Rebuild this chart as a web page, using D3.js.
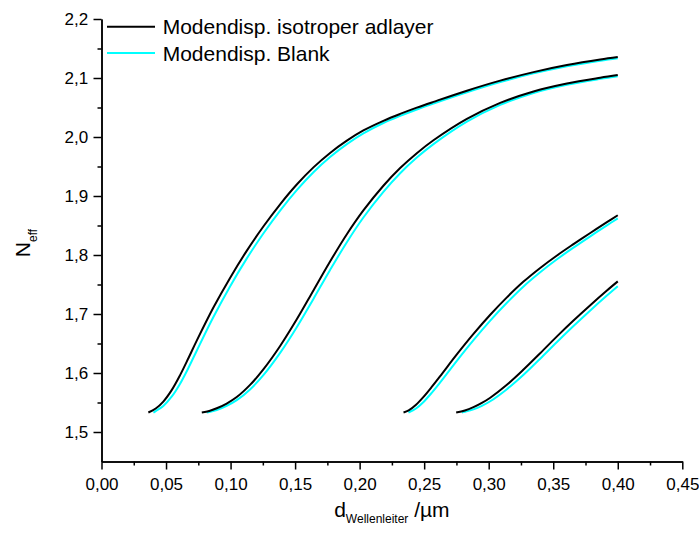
<!DOCTYPE html>
<html>
<head>
<meta charset="utf-8">
<script src="https://cdn.jsdelivr.net/npm/d3@7"></script>
<style>
  html, body { margin: 0; padding: 0; background: #fff; }
  svg { display: block; font-family: "Liberation Sans", Arial, sans-serif; }
</style>
</head>
<body>
<svg id="chart" width="699" height="533"></svg>
<script>
// Mode dispersion N_eff(d) of a slab waveguide, four guided modes,
// with an isotropic adlayer (black) and without (blank, cyan).
const seriesNames = ["Modendisp. isotroper adlayer", "Modendisp. Blank"];
const seriesColors = ["#000000", "#00ffff"];

// [d in µm, N_eff]
const adlayerMode0 = [
  [0.0363, 1.5330], [0.0420, 1.5398], [0.0479, 1.5516], [0.0545, 1.5714], [0.0609, 1.5964],
  [0.0675, 1.6258], [0.0738, 1.6548], [0.0867, 1.7109], [0.0996, 1.7612], [0.1125, 1.8070],
  [0.1254, 1.8483], [0.1384, 1.8860], [0.1513, 1.9195], [0.1642, 1.9485], [0.1771, 1.9730],
  [0.1901, 1.9938], [0.2029, 2.0111], [0.2184, 2.0274], [0.2314, 2.0391], [0.2443, 2.0497],
  [0.2572, 2.0595], [0.2831, 2.0785], [0.3089, 2.0955], [0.3347, 2.1100], [0.3606, 2.1219],
  [0.3864, 2.1314], [0.4000, 2.1355]
];
const blankMode0 = [
  [0.0402, 1.5330], [0.0420, 1.5354], [0.0479, 1.5442], [0.0545, 1.5603], [0.0609, 1.5819],
  [0.0675, 1.6093], [0.0738, 1.6378], [0.0867, 1.6948], [0.0996, 1.7468], [0.1125, 1.7939],
  [0.1254, 1.8364], [0.1384, 1.8753], [0.1513, 1.9099], [0.1642, 1.9402], [0.1771, 1.9660],
  [0.1901, 1.9879], [0.2029, 2.0061], [0.2184, 2.0237], [0.2314, 2.0358], [0.2443, 2.0467],
  [0.2572, 2.0567], [0.2831, 2.0758], [0.3089, 2.0931], [0.3347, 2.1078], [0.3606, 2.1199],
  [0.3864, 2.1294], [0.4000, 2.1335]
];
const adlayerMode1 = [
  [0.0777, 1.5330], [0.0835, 1.5356], [0.0893, 1.5402], [0.0970, 1.5483], [0.1048, 1.5592],
  [0.1151, 1.5798], [0.1254, 1.6061], [0.1384, 1.6458], [0.1513, 1.6910], [0.1642, 1.7400],
  [0.1771, 1.7890], [0.1901, 1.8352], [0.2029, 1.8755], [0.2184, 1.9174], [0.2314, 1.9473],
  [0.2443, 1.9725], [0.2572, 1.9944], [0.2831, 2.0307], [0.3089, 2.0578], [0.3347, 2.0772],
  [0.3606, 2.0907], [0.3864, 2.1005], [0.4000, 2.1050]
];
const blankMode1 = [
  [0.0815, 1.5330], [0.0835, 1.5339], [0.0893, 1.5372], [0.0970, 1.5443], [0.1048, 1.5539],
  [0.1151, 1.5722], [0.1254, 1.5964], [0.1384, 1.6342], [0.1513, 1.6777], [0.1642, 1.7256],
  [0.1771, 1.7746], [0.1901, 1.8217], [0.2029, 1.8636], [0.2184, 1.9071], [0.2314, 1.9386],
  [0.2443, 1.9651], [0.2572, 1.9879], [0.2831, 2.0260], [0.3089, 2.0544], [0.3347, 2.0747],
  [0.3606, 2.0885], [0.3864, 2.0985], [0.4000, 2.1030]
];
const adlayerMode2 = [
  [0.2340, 1.5330], [0.2380, 1.5366], [0.2437, 1.5463], [0.2495, 1.5596], [0.2560, 1.5768],
  [0.2624, 1.5947], [0.2753, 1.6315], [0.2882, 1.6663], [0.3012, 1.6988], [0.3141, 1.7282],
  [0.3270, 1.7549], [0.3399, 1.7781], [0.3529, 1.7992], [0.3657, 1.8184], [0.3787, 1.8373],
  [0.3916, 1.8556], [0.4000, 1.8674]
];
const blankMode2 = [
  [0.2378, 1.5330], [0.2437, 1.5398], [0.2495, 1.5509], [0.2560, 1.5668], [0.2624, 1.5841],
  [0.2753, 1.6207], [0.2882, 1.6558], [0.3012, 1.6889], [0.3141, 1.7191], [0.3270, 1.7467],
  [0.3399, 1.7707], [0.3529, 1.7927], [0.3657, 1.8125], [0.3787, 1.8317], [0.3916, 1.8502],
  [0.4000, 1.8621]
];
const adlayerMode3 = [
  [0.2748, 1.5330], [0.2815, 1.5364], [0.2882, 1.5421], [0.2947, 1.5493], [0.3012, 1.5581],
  [0.3141, 1.5800], [0.3270, 1.6058], [0.3399, 1.6335], [0.3529, 1.6621], [0.3657, 1.6890],
  [0.3787, 1.7150], [0.3916, 1.7398], [0.4000, 1.7553]
];
const blankMode3 = [
  [0.2792, 1.5330], [0.2815, 1.5342], [0.2882, 1.5384], [0.2947, 1.5444], [0.3012, 1.5521],
  [0.3141, 1.5726], [0.3270, 1.5970], [0.3399, 1.6243], [0.3529, 1.6525], [0.3657, 1.6795],
  [0.3787, 1.7060], [0.3916, 1.7312], [0.4000, 1.7470]
];

const xMajorTicks = [0, 0.05, 0.10, 0.15, 0.20, 0.25, 0.30, 0.35, 0.40, 0.45];
const xMinorTicks = [0.025, 0.075, 0.125, 0.175, 0.225, 0.275, 0.325, 0.375, 0.425];
const yMajorTicks = [1.5, 1.6, 1.7, 1.8, 1.9, 2.0, 2.1, 2.2];
const yMinorTicks = [1.55, 1.65, 1.75, 1.85, 1.95, 2.05, 2.15];

const xTitle = { main: "d", sub: "Wellenleiter", tail: " /µm" };
const yTitle = { main: "N", sub: "eff" };

const svg = d3.select("#chart");
const x = d3.scaleLinear().domain([0, 0.45]).range([101.5, 682.3]);
const y = d3.scaleLinear().domain([1.45, 2.2]).range([461.5, 19]);

const de = d3.formatLocale({ decimal: ",", thousands: ".", grouping: [3], currency: ["", " €"] });
const fmtX = de.format(".2f");
const fmtY = de.format(".1f");

const tickFont = 17;

// axes: minor ticks first, then majors with labels
const xAxisG = svg.append("g").attr("transform", `translate(0,${y.range()[0]})`);
xAxisG.append("g").call(d3.axisBottom(x).tickValues(xMinorTicks).tickSize(4).tickSizeOuter(0).tickFormat(""));
xAxisG.append("g").call(d3.axisBottom(x).tickValues(xMajorTicks).tickSize(8).tickSizeOuter(0).tickPadding(8.5).tickFormat(fmtX));

const yAxisG = svg.append("g").attr("transform", `translate(${x.range()[0]},0)`);
yAxisG.append("g").call(d3.axisLeft(y).tickValues(yMinorTicks).tickSize(4).tickSizeOuter(0).tickFormat(""));
yAxisG.append("g").call(d3.axisLeft(y).tickValues(yMajorTicks).tickSize(8).tickSizeOuter(0).tickPadding(5.4).tickFormat(fmtY));

svg.selectAll(".domain, .tick line").attr("stroke", "#000").attr("stroke-width", 1.5);
svg.selectAll(".tick text")
  .attr("fill", "#000")
  .style("font-size", tickFont + "px")
  .style("font-family", '"Liberation Sans", Arial, sans-serif');

// curves: blank first, adlayer on top
const line = d3.line().x(d => x(d[0])).y(d => y(d[1])).curve(d3.curveCatmullRom.alpha(0.5));
const blankCurves = [blankMode0, blankMode1, blankMode2, blankMode3];
const adlayerCurves = [adlayerMode0, adlayerMode1, adlayerMode2, adlayerMode3];

svg.append("g").selectAll("path").data(blankCurves).join("path")
  .attr("d", line).attr("fill", "none")
  .attr("stroke", seriesColors[1]).attr("stroke-width", 2);
svg.append("g").selectAll("path").data(adlayerCurves).join("path")
  .attr("d", line).attr("fill", "none")
  .attr("stroke", seriesColors[0]).attr("stroke-width", 2);

// legend
const legend = svg.append("g").attr("transform", "translate(107,26.7)");
seriesNames.forEach((name, i) => {
  const row = legend.append("g").attr("transform", `translate(0,${i * 26.4})`);
  row.append("line").attr("x1", 0).attr("x2", 48).attr("y1", 0).attr("y2", 0)
    .attr("stroke", seriesColors[i]).attr("stroke-width", 2);
  row.append("text").attr("x", 55.7).attr("y", 7.6)
    .attr("fill", "#000").style("font-size", "21px").text(name);
});

// x axis title
const xt = svg.append("text")
  .attr("x", (x.range()[0] + x.range()[1]) / 2).attr("y", 516.7)
  .attr("text-anchor", "middle").attr("fill", "#000").style("font-size", "21px");
xt.append("tspan").text(xTitle.main);
xt.append("tspan").attr("dy", 6.5).style("font-size", "12px").text(xTitle.sub);
xt.append("tspan").attr("dy", -6.5).style("white-space", "pre").text(xTitle.tail);

// y axis title (rotated)
const yt = svg.append("text")
  .attr("transform", "translate(30,243) rotate(-90)")
  .attr("text-anchor", "middle").attr("fill", "#000").style("font-size", "21px");
yt.append("tspan").text(yTitle.main);
yt.append("tspan").attr("dy", 7).style("font-size", "12px").text(yTitle.sub);
</script>
</body>
</html>
